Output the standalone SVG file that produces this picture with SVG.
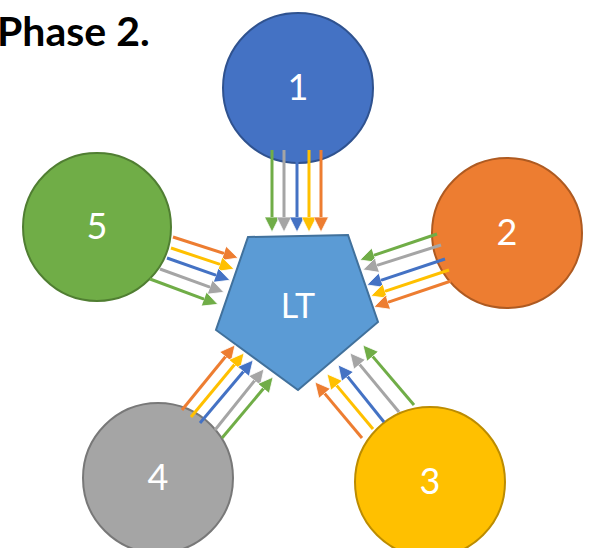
<svg xmlns="http://www.w3.org/2000/svg" width="598" height="548" viewBox="0 0 598 548">
<style>
.c{stroke-width:2}
.lbl{font-family:Lato,"Open Sans","Liberation Sans",sans-serif;font-size:36px;fill:#fff;text-anchor:middle;dominant-baseline:central}
.g{stroke:#70AD47;stroke-width:3;marker-end:url(#mg)}
.s{stroke:#A5A5A5;stroke-width:3;marker-end:url(#ms)}
.b{stroke:#4472C4;stroke-width:3;marker-end:url(#mb)}
.y{stroke:#FFC000;stroke-width:3;marker-end:url(#my)}
.o{stroke:#ED7D31;stroke-width:3;marker-end:url(#mo)}
</style>
<defs>
<marker id="mg" viewBox="0 0 4 4" refX="1.6" refY="2" markerWidth="5" markerHeight="5" orient="auto"><path d="M0,0L4,2L0,4z" fill="#70AD47" stroke="#fff" stroke-width="0.2"/></marker>
<marker id="ms" viewBox="0 0 4 4" refX="1.6" refY="2" markerWidth="5" markerHeight="5" orient="auto"><path d="M0,0L4,2L0,4z" fill="#A5A5A5" stroke="#fff" stroke-width="0.2"/></marker>
<marker id="mb" viewBox="0 0 4 4" refX="1.6" refY="2" markerWidth="5" markerHeight="5" orient="auto"><path d="M0,0L4,2L0,4z" fill="#4472C4" stroke="#fff" stroke-width="0.2"/></marker>
<marker id="my" viewBox="0 0 4 4" refX="1.6" refY="2" markerWidth="5" markerHeight="5" orient="auto"><path d="M0,0L4,2L0,4z" fill="#FFC000" stroke="#fff" stroke-width="0.2"/></marker>
<marker id="mo" viewBox="0 0 4 4" refX="1.6" refY="2" markerWidth="5" markerHeight="5" orient="auto"><path d="M0,0L4,2L0,4z" fill="#ED7D31" stroke="#fff" stroke-width="0.2"/></marker>
</defs>
<rect width="598" height="548" fill="#fff"/>
<text x="-3" y="46" style="font-family:Lato,'Open Sans','Liberation Sans',sans-serif;font-size:41px;font-weight:bold" fill="#000">Phase 2.</text>

<g id="n1"><circle class="c" cx="298" cy="88" r="75" fill="#4472C4" stroke="#2F528F"/><text class="lbl" x="298" y="86">1</text></g>
<g id="n2"><circle class="c" cx="507" cy="233" r="75" fill="#ED7D31" stroke="#AE5A21"/><text class="lbl" x="507" y="231">2</text></g>
<g id="n3"><circle class="c" cx="430" cy="482" r="75" fill="#FFC000" stroke="#BC8C00"/><text class="lbl" x="430" y="480">3</text></g>
<g id="n4"><circle class="c" cx="158" cy="478" r="75" fill="#A5A5A5" stroke="#787878"/><text class="lbl" x="158" y="476">4</text></g>
<g id="n5"><circle class="c" cx="97" cy="227" r="74" fill="#70AD47" stroke="#507E32"/><text class="lbl" x="97" y="225">5</text></g>
<g id="lt"><polygon points="248,237 348,235 378,322 298,390 216,330" fill="#5B9BD5" stroke="#41719C" stroke-width="2"/><text class="lbl" x="298" y="304" style="font-size:34px">LT</text></g>

<g id="connectors">
<line class="g" x1="272" y1="150" x2="272" y2="223"/>
<line class="s" x1="284" y1="150" x2="284" y2="223"/>
<line class="b" x1="297" y1="150" x2="297" y2="223"/>
<line class="y" x1="309" y1="150" x2="309" y2="223"/>
<line class="o" x1="321" y1="150" x2="321" y2="223"/>
<line class="g" x1="437" y1="234" x2="368.5" y2="257.1"/>
<line class="s" x1="441" y1="245" x2="371.5" y2="267.1"/>
<line class="b" x1="445" y1="259" x2="375.5" y2="282.1"/>
<line class="y" x1="449" y1="270" x2="379.5" y2="293.1"/>
<line class="o" x1="451" y1="281" x2="382.5" y2="304.1"/>
<line class="o" x1="173" y1="237" x2="229.4" y2="255.2"/>
<line class="y" x1="171" y1="248" x2="225.4" y2="266.2"/>
<line class="b" x1="167" y1="258" x2="221.4" y2="277.2"/>
<line class="s" x1="160" y1="269" x2="215.4" y2="289.2"/>
<line class="g" x1="150" y1="279" x2="209.4" y2="301.2"/>
<line class="o" x1="182" y1="410" x2="229.3" y2="352"/>
<line class="y" x1="191" y1="417" x2="238.3" y2="360"/>
<line class="b" x1="200" y1="423" x2="247.3" y2="367"/>
<line class="s" x1="215" y1="430" x2="258.3" y2="376"/>
<line class="g" x1="222" y1="438" x2="267.3" y2="384"/>
<line class="o" x1="362" y1="438" x2="320.8" y2="388.9"/>
<line class="y" x1="373" y1="429" x2="332.8" y2="380.9"/>
<line class="b" x1="384" y1="422" x2="343.8" y2="371.9"/>
<line class="s" x1="399" y1="412" x2="355.8" y2="359.9"/>
<line class="g" x1="414" y1="405" x2="368.8" y2="351.9"/>
</g>
</svg>
